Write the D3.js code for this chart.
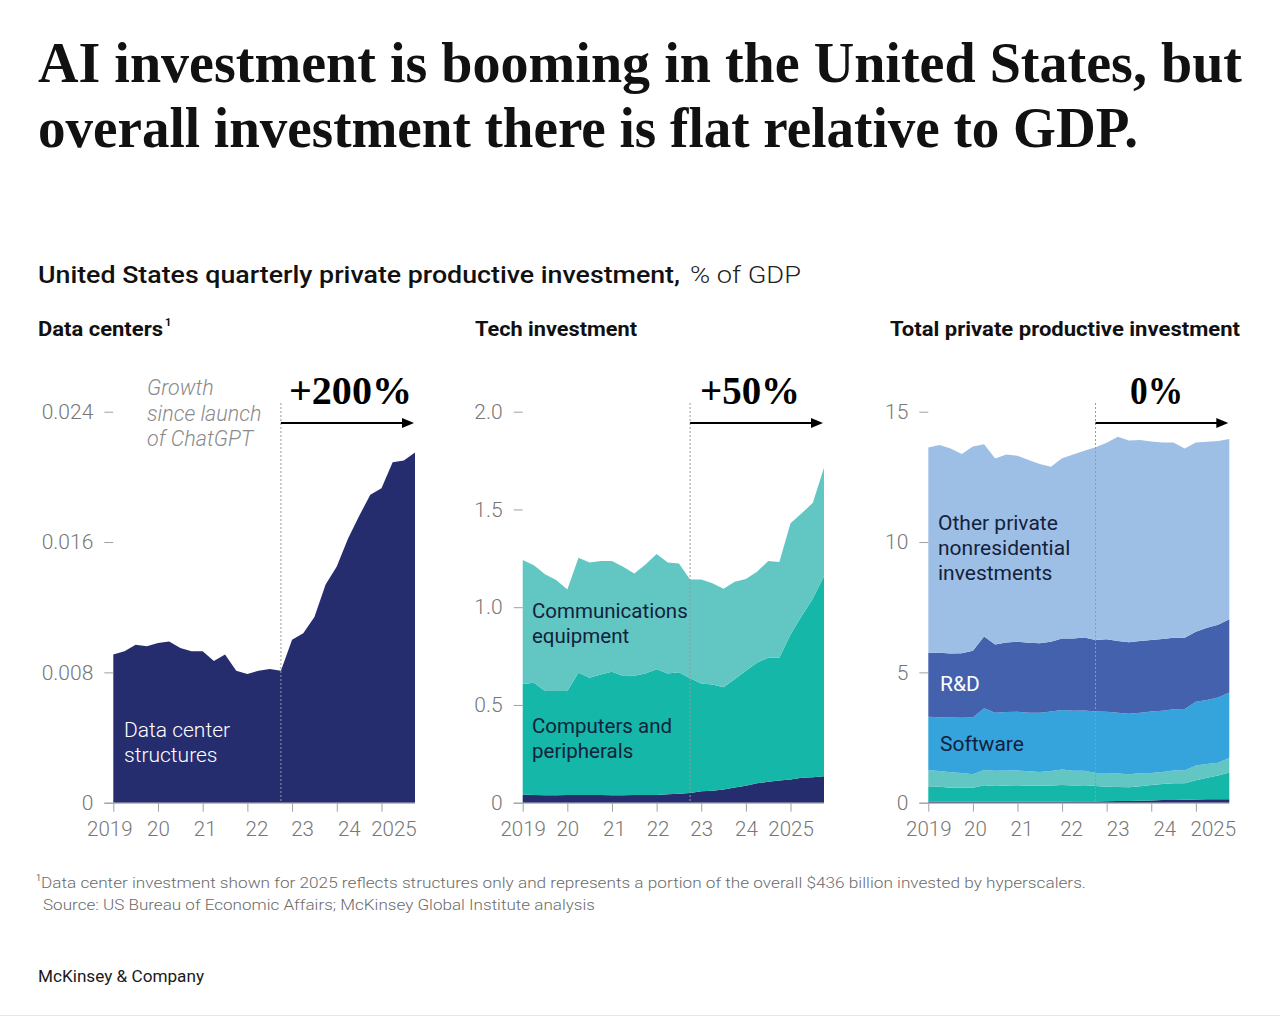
<!DOCTYPE html>
<html>
<head>
<meta charset="utf-8">
<script src="https://cdn.jsdelivr.net/npm/d3@7"></script>
<style>
  body { margin: 0; background: #fff; }
  svg { display: block; }
  .tick text { font-family: Roboto, sans-serif; font-weight: 300; fill: #777; }
  .y-axis .tick text { font-size: 21px; }
  .x-axis .tick text { font-size: 20.5px; }
  .tick line, .domain { stroke: #a0a0a0; }
</style>
</head>
<body>
<svg id="chart" width="1280" height="1017"></svg>
<script>
// quarters shown on every panel
var quarters = ["2019Q1","2019Q2","2019Q3","2019Q4","2020Q1","2020Q2","2020Q3","2020Q4",
                "2021Q1","2021Q2","2021Q3","2021Q4","2022Q1","2022Q2","2022Q3","2022Q4",
                "2023Q1","2023Q2","2023Q3","2023Q4","2024Q1","2024Q2","2024Q3","2024Q4",
                "2025Q1","2025Q2","2025Q3","2025Q4"];
var yearTicks = [2019, 2020, 2021, 2022, 2023, 2024, 2025];
var yearLabels = ["2019", "20", "21", "22", "23", "24", "2025"];
var chatgptQuarter = "2022Q4";

// % of GDP
var dataCenters = [0.0091,0.0093,0.0097,0.0096,0.0098,0.0099,0.0095,0.0093,0.0093,0.0087,0.0091,0.0081,0.0079,0.0081,
                   0.0082,0.0081,0.0100,0.0104,0.0114,0.0134,0.0145,0.0162,0.0176,0.0189,0.0193,0.0209,0.0210,0.0215];
var techBase = [0.042,0.040,0.038,0.038,0.040,0.040,0.039,0.039,0.038,0.038,0.039,0.039,0.040,0.043,
                0.046,0.049,0.058,0.061,0.068,0.078,0.087,0.099,0.107,0.114,0.119,0.128,0.130,0.135];
var computers = [0.565,0.574,0.533,0.533,0.531,0.625,0.600,0.617,0.632,0.610,0.611,0.622,0.642,0.618,
                 0.621,0.587,0.552,0.544,0.522,0.553,0.588,0.617,0.635,0.628,0.742,0.827,0.915,1.024];
var communications = [0.634,0.601,0.597,0.568,0.520,0.588,0.590,0.580,0.566,0.559,0.523,0.558,0.590,0.568,
                      0.557,0.506,0.532,0.517,0.504,0.499,0.469,0.465,0.494,0.489,0.568,0.525,0.489,0.554];
var software = [2.06,2.06,2.10,2.12,2.18,2.37,2.22,2.24,2.25,2.24,2.28,2.28,2.28,2.30,
                2.31,2.36,2.35,2.33,2.32,2.32,2.35,2.35,2.35,2.36,2.44,2.46,2.50,2.51];
var rnd = [2.45,2.48,2.46,2.47,2.56,2.75,2.62,2.67,2.69,2.69,2.66,2.68,2.75,2.77,
           2.80,2.74,2.78,2.75,2.74,2.75,2.75,2.75,2.74,2.74,2.69,2.77,2.79,2.81];
var otherInvestment = [7.88,7.97,7.86,7.65,7.83,7.38,7.14,7.21,7.13,7.01,6.88,6.71,6.91,7.06,
                       7.17,7.39,7.54,7.84,7.74,7.71,7.61,7.54,7.49,7.26,7.26,7.14,7.05,6.92];

var dcTicks = [0, 0.008, 0.016, 0.024];
var techTicks = [0, 0.5, 1.0, 1.5, 2.0];
var totalTicks = [0, 5, 10, 15];

var growthLabels = ["+200%", "+50%", "0%"];

var colors = {
  dataCenters: "#262d6e",
  techBase: "#262d6e",
  computers: "#14b7a8",
  communications: "#62c7c3",
  software: "#35a4dc",
  rnd: "#4361ad",
  otherInvestment: "#9ebfe5"
};

var series = {
  dataCenters: dataCenters, techBase: techBase, computers: computers,
  communications: communications, software: software, rnd: rnd, otherInvestment: otherInvestment
};

var SANS = "Roboto, 'Liberation Sans', sans-serif";
var SERIF = "'Liberation Serif', 'DejaVu Serif', serif";

var svg = d3.select("#chart");

function qNum(q) { return +q.slice(0, 4) + (+q.slice(5) - 1) / 4; }

// plain text helper, optional width squeeze
function txt(x, y, s, size, weight, color, opts) {
  opts = opts || {};
  var t = svg.append("text")
    .attr("x", x).attr("y", y)
    .attr("font-family", opts.family || SANS)
    .attr("font-size", size)
    .attr("font-weight", weight)
    .attr("fill", color)
    .attr("text-anchor", opts.anchor || "start")
    .text(s);
  if (opts.italic) t.attr("font-style", "italic");
  if (opts.width) t.attr("textLength", opts.width).attr("lengthAdjust", "spacingAndGlyphs");
  return t;
}

// headline
txt(38, 82, "AI investment is booming in the United States, but", 56, 700, "#111", {family: SERIF, width: 1204});
txt(38, 147, "overall investment there is flat relative to GDP.", 56, 700, "#111", {family: SERIF, width: 1100});

// subtitle
txt(38, 283, "United States quarterly private productive investment,", 24, 500, "#111", {width: 642});
txt(690, 283, "% of GDP", 24, 300, "#222", {width: 111});

var panels = [
  { title: "Data centers", titleW: 125, sup: true, tx: 38, x0: 113.3, x1: 415, ticks: dcTicks,
    fmt: function(d) { return d === 0 ? "0" : d3.format(".3f")(d); },
    keys: ["dataCenters"], growth: growthLabels[0], gx: 350.5, gw: 123,
    labelShift: [-4, 0, 2, 9, 10, 12, 12] },
  { title: "Tech investment", titleW: 162, tx: 475, x0: 522.7, x1: 824, ticks: techTicks,
    fmt: function(d) { return d === 0 ? "0" : d3.format(".1f")(d); },
    keys: ["techBase", "computers", "communications"], growth: growthLabels[1], gx: 750, gw: 100,
    labelShift: [0, 0, 2, 1, 0, 0, 0] },
  { title: "Total private productive investment", titleW: 350, tx: 890, x0: 928.3, x1: 1229.3, ticks: totalTicks,
    fmt: d3.format("d"),
    keys: ["techBase", "computers", "communications", "software", "rnd", "otherInvestment"], growth: growthLabels[2],
    gx: 1156.5, gw: 53,
    labelShift: [0, 2, 4, 9, 11, 13, 17] }
];

var yBottom = 802.7, yTop = 411.7;

panels.forEach(function(p) {
  var x = d3.scaleLinear().domain([2019, 2025.75]).range([p.x0, p.x1]);
  var y = d3.scaleLinear().domain([0, d3.max(p.ticks)]).range([yBottom, yTop]);

  var rows = quarters.map(function(q, i) {
    var r = { q: q };
    p.keys.forEach(function(k) { r[k] = series[k][i]; });
    return r;
  });
  var stacked = d3.stack().keys(p.keys)(rows);

  var area = d3.area()
    .x(function(d) { return x(qNum(d.data.q)); })
    .y0(function(d) { return y(d[0]); })
    .y1(function(d) { return y(d[1]); });

  svg.append("g").selectAll("path")
    .data(stacked).enter().append("path")
    .attr("d", area)
    .attr("fill", function(d) { return colors[d.key]; });

  // panel title
  txt(p.tx, 336, p.title, 20, 700, "#111", {width: p.titleW});
  if (p.sup) txt(p.tx + p.titleW + 2, 326, "1", 11, 700, "#111");

  // y axis
  var ya = svg.append("g").attr("class", "y-axis").attr("transform", "translate(" + p.x0 + ",0)")
    .call(d3.axisLeft(y).tickValues(p.ticks).tickFormat(p.fmt).tickSize(9).tickPadding(11));
  ya.select(".domain").remove();

  // x axis
  var xa = svg.append("g").attr("class", "x-axis").attr("transform", "translate(0," + yBottom + ")")
    .call(d3.axisBottom(x).tickValues(yearTicks)
      .tickFormat(function(d, i) { return yearLabels[i]; })
      .tickSize(9).tickSizeOuter(0).tickPadding(10));
  xa.select(".domain").attr("d", "M" + (p.x0 - 9) + ",0.5H" + p.x1);
  xa.selectAll(".tick text").attr("dx", function(d, i) { return p.labelShift[i]; });

  // ChatGPT launch marker
  var xd = x(qNum(chatgptQuarter));
  svg.append("line")
    .attr("x1", xd).attr("x2", xd).attr("y1", 403).attr("y2", yBottom)
    .attr("stroke", "#9a9a9a").attr("stroke-width", 1).attr("stroke-dasharray", "2,2");

  // arrow
  var tip = p.x1 - 1;
  svg.append("line")
    .attr("x1", xd).attr("x2", tip - 10).attr("y1", 423).attr("y2", 423)
    .attr("stroke", "#000").attr("stroke-width", 1.8);
  svg.append("path")
    .attr("d", "M" + tip + ",423L" + (tip - 12) + ",418L" + (tip - 12) + ",428Z")
    .attr("fill", "#000");

  txt(p.gx, 404, p.growth, 39, 700, "#000", {family: SERIF, anchor: "middle", width: p.gw});
});

// annotations
["Growth", "since launch", "of ChatGPT"].forEach(function(s, i) {
  txt(147, 395 + i * 25.5, s, 21.5, 300, "#8a8a8a", {italic: true});
});

var dark = "#13213c";
txt(124, 737, "Data center", 21, 300, "#fff");
txt(124, 762, "structures", 21, 300, "#fff");

txt(532, 618, "Communications", 20.5, 400, dark);
txt(532, 643, "equipment", 20.5, 400, dark);
txt(532, 733, "Computers and", 20.5, 400, dark);
txt(532, 758, "peripherals", 20.5, 400, dark);

txt(938, 530, "Other private", 21, 400, dark);
txt(938, 555, "nonresidential", 21, 400, dark);
txt(938, 580, "investments", 21, 400, dark);
txt(940, 691, "R&D", 21, 400, "#fff");
txt(940, 751, "Software", 21, 400, dark);

// footnotes
txt(36, 881, "1", 9, 400, "#6b6b6b");
txt(41, 888, "Data center investment shown for 2025 reflects structures only and represents a portion of the overall $436 billion invested by hyperscalers.", 15, 300, "#6b6b6b", {width: 1045});
txt(43, 910, "Source: US Bureau of Economic Affairs; McKinsey Global Institute analysis", 15, 300, "#6b6b6b", {width: 552});
txt(38, 982, "McKinsey & Company", 16, 400, "#1a1a1a", {width: 166});

svg.append("line").attr("x1", 0).attr("x2", 1280).attr("y1", 1015.5).attr("y2", 1015.5)
  .attr("stroke", "#e6e6e6");
</script>
</body>
</html>
